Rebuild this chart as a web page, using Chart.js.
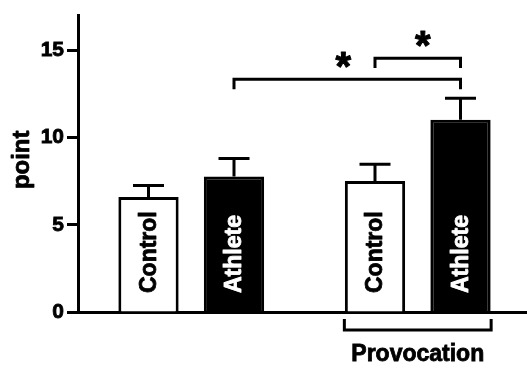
<!DOCTYPE html>
<html>
<head>
<meta charset="utf-8">
<script src="https://cdn.jsdelivr.net/npm/chart.js@4/dist/chart.umd.min.js"></script>
<style>
  html, body { margin: 0; padding: 0; background: #fff; overflow: hidden; }
  #wrap { width: 531px; height: 368px; }
</style>
</head>
<body>
<div id="wrap"><canvas id="c" width="531" height="368"></canvas></div>
<script>
// Group labels along the x axis
const categories = ['', 'Provocation'];
// Mean score per group and its standard error
const controlMean = [6.6, 7.52];
const controlSem = [0.66, 0.95];
const athleteMean = [7.77, 11.03];
const athleteSem = [1.03, 1.23];
// Bar names written inside the bars
const seriesNames = ['Control', 'Athlete'];
// Y axis
const yTicks = [0, 5, 10, 15];
const yMax = 17;
const yTitle = 'point';
// Significance brackets: [dataset, index] to [dataset, index], bar height, leg bottom
const sigFrom = [[1, 0], [0, 1]];
const sigTo = [[1, 1], [1, 1]];
const sigLevel = [13.35, 14.56];
const sigLegEnd = [12.77, 14.0];
const sigMark = ['*', '*'];

const INK = '#000';
const FONT = '"Liberation Sans", Arial, Helvetica, sans-serif';

// heavy text: fill plus a thin outline of the same colour
function heavyText(ctx, text, x, y, col, w) {
  ctx.fillStyle = col;
  ctx.strokeStyle = col;
  ctx.lineWidth = w;
  ctx.lineJoin = 'round';
  ctx.fillText(text, x, y);
  ctx.strokeText(text, x, y);
}

const barDecor = {
  id: 'barDecor',
  afterDatasetsDraw(chart) {
    const ctx = chart.ctx;
    const y = chart.scales.y;
    const sems = [controlSem, athleteSem];
    const means = [controlMean, athleteMean];
    ctx.save();
    ctx.strokeStyle = INK;
    ctx.lineWidth = 3;
    ctx.lineCap = 'butt';
    // upper error whiskers
    chart.data.datasets.forEach((ds, di) => {
      const meta = chart.getDatasetMeta(di);
      meta.data.forEach((el, i) => {
        const top = y.getPixelForValue(means[di][i] + sems[di][i]);
        ctx.beginPath();
        ctx.moveTo(el.x, el.y);
        ctx.lineTo(el.x, top);
        ctx.moveTo(el.x - 15.5, top);
        ctx.lineTo(el.x + 15.5, top);
        ctx.stroke();
      });
    });
    // names inside the bars
    ctx.font = 'bold 23px ' + FONT;
    ctx.textAlign = 'left';
    ctx.textBaseline = 'middle';
    chart.data.datasets.forEach((ds, di) => {
      const meta = chart.getDatasetMeta(di);
      meta.data.forEach((el) => {
        ctx.save();
        ctx.translate(el.x, y.getPixelForValue(0) - 19);
        ctx.rotate(-Math.PI / 2);
        heavyText(ctx, seriesNames[di], 0, 1, di === 0 ? INK : '#fff', 0.8);
        ctx.restore();
      });
    });
    // y axis title
    ctx.save();
    ctx.font = 'bold 24px ' + FONT;
    ctx.textAlign = 'center';
    ctx.textBaseline = 'middle';
    ctx.translate(22, (y.top + y.bottom) / 2 - 4);
    ctx.rotate(-Math.PI / 2);
    heavyText(ctx, yTitle, 0, 0, INK, 0.8);
    ctx.restore();
    // significance brackets
    const markShift = [-4, 5];
    sigFrom.forEach((f, k) => {
      const a = chart.getDatasetMeta(f[0]).data[f[1]];
      const b = chart.getDatasetMeta(sigTo[k][0]).data[sigTo[k][1]];
      const lv = y.getPixelForValue(sigLevel[k]);
      const leg = y.getPixelForValue(sigLegEnd[k]);
      ctx.strokeStyle = INK;
      ctx.lineWidth = 3;
      ctx.lineJoin = 'miter';
      ctx.beginPath();
      ctx.moveTo(a.x, leg);
      ctx.lineTo(a.x, lv);
      ctx.lineTo(b.x, lv);
      ctx.lineTo(b.x, leg);
      ctx.stroke();
      ctx.font = 'bold 40px ' + FONT;
      ctx.textAlign = 'center';
      ctx.textBaseline = 'alphabetic';
      heavyText(ctx, sigMark[k], (a.x + b.x) / 2 + markShift[k], lv + 1, INK, 1);
    });
    // bracket grouping the provocation bars
    const c2 = chart.getDatasetMeta(0).data[1];
    const a2 = chart.getDatasetMeta(1).data[1];
    const gy = y.getPixelForValue(0) + 18;
    const left = c2.x - c2.width / 2 - 0.5;
    const right = a2.x + a2.width / 2 + 0.5;
    ctx.strokeStyle = INK;
    ctx.lineWidth = 3;
    ctx.lineJoin = 'miter';
    ctx.beginPath();
    ctx.moveTo(left, gy - 11);
    ctx.lineTo(left, gy);
    ctx.lineTo(right, gy);
    ctx.lineTo(right, gy - 11);
    ctx.stroke();
    ctx.restore();
  }
};

new Chart(document.getElementById('c'), {
  type: 'bar',
  data: {
    labels: categories,
    datasets: [
      {
        label: seriesNames[0],
        data: controlMean,
        backgroundColor: '#fff',
        borderColor: INK,
        borderWidth: 3,
        borderSkipped: 'start',
        categoryPercentage: 0.755,
        barPercentage: 0.705
      },
      {
        label: seriesNames[1],
        data: athleteMean,
        backgroundColor: INK,
        borderColor: INK,
        borderWidth: 3,
        borderSkipped: 'start',
        categoryPercentage: 0.755,
        barPercentage: 0.705
      }
    ]
  },
  options: {
    responsive: false,
    animation: false,
    events: [],
    layout: { padding: { top: 7, left: 0, right: 0, bottom: 0 } },
    plugins: { legend: { display: false }, tooltip: { enabled: false } },
    scales: {
      x: {
        offset: true,
        afterFit(s) { s.height = 56; },
        grid: { display: true, drawOnChartArea: false, drawTicks: false },
        border: { display: true, color: INK, width: 3 },
        ticks: {
          color: INK,
          padding: 29,
          textStrokeColor: INK,
          textStrokeWidth: 0.8,
          font: { family: FONT, size: 23, weight: 'bold' }
        }
      },
      y: {
        min: 0,
        max: yMax,
        afterFit(s) { s.width = 78; },
        afterBuildTicks(s) { s.ticks = yTicks.map(v => ({ value: v })); },
        grid: {
          drawOnChartArea: false,
          drawTicks: true,
          tickLength: 11,
          tickWidth: 3,
          tickColor: INK
        },
        border: { display: true, color: INK, width: 3 },
        ticks: {
          color: INK,
          padding: 3,
          textStrokeColor: INK,
          textStrokeWidth: 0.8,
          font: { family: FONT, size: 21, weight: 'bold' }
        },
        title: { display: false, text: yTitle }
      }
    }
  },
  plugins: [barDecor]
});
</script>
</body>
</html>
